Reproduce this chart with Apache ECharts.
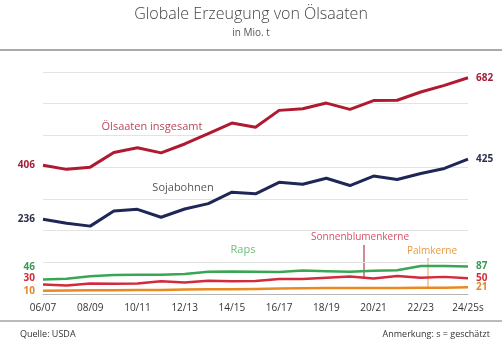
<!DOCTYPE html>
<html><head><meta charset="utf-8">
<script src="https://cdn.jsdelivr.net/npm/echarts@6/dist/echarts.min.js"></script>
<style>html,body{margin:0;padding:0;background:#fff}#c{width:502px;height:350px}</style>
</head><body><div id="c"></div>
<script>
const years = ['06/07','07/08','08/09','09/10','10/11','11/12','12/13','13/14','14/15','15/16','16/17','17/18','18/19','19/20','20/21','21/22','22/23','23/24','24/25s'];
const total = [406,393,400,446,461,445,473,506,539,526,579,584,602,582,610,611,637,658,682];
const soy = [236,223,214,262,267,242,268,285,321,316,352,346,365,342,372,361,380,396,425];
const rapeseed = [46,48,56,60,61,61,63,70,71,70,69,74,72,70,73,75,88,88,87];
const sunflower = [30,27,33,32,33,40,36,42,40,41,47,47,51,55,49,57,51,54,50];
const palm = [10,11,12,12,13,13,14,15,15,16,17,18,19,19,19,19,20,20,21];

const FF = '"Open Sans", "Noto Sans", sans-serif';
function mk(name, arr, color, labelColor, width, startOffset) {
  const data = arr.map((v, i) => i === 0 ? {
    value: v,
    label: {show: true, position: 'left', distance: 8, offset: [0, startOffset], formatter: String(v),
      color: labelColor, fontWeight: 'bold', fontSize: 10, fontFamily: FF}
  } : v);
  return {
    name, type: 'line', data, symbol: 'circle', symbolSize: 0, showSymbol: true, showAllSymbol: true, smooth: false,
    lineStyle: {color, width}, itemStyle: {color},
    label: {show: false},
    endLabel: {show: true, distance: 8, formatter: p => String(p.value), color: labelColor,
      fontWeight: 'bold', fontSize: 10, fontFamily: FF},
    silent: true, animation: false, z: 3
  };
}
const chart = echarts.init(document.getElementById('c'), null, {renderer: 'canvas'});
chart.setOption({
  animation: false,
  grid: {left: 43, right: 34, top: 72, bottom: 56},
  xAxis: {type: 'category', data: years, boundaryGap: false,
    axisLine: {lineStyle: {color: '#b5b5b5'}}, axisTick: {show: false},
    axisLabel: {interval: 1, color: '#333', fontSize: 10, fontFamily: FF, margin: 9},
    splitLine: {show: false}},
  yAxis: {type: 'value', min: 0, max: 700, interval: 100,
    axisLabel: {show: false}, axisLine: {show: false}, axisTick: {show: false},
    splitLine: {lineStyle: {color: '#e3e3e3', width: 1}}},
  series: [
    mk('Palmkerne', palm, '#e88a22', '#e0892a', 2.5, 0),
    mk('Sonnenblumenkerne', sunflower, '#d32a3c', '#d12e3c', 2.5, -6),
    mk('Raps', rapeseed, '#3aa655', '#3a9a55', 2.5, -12),
    mk('Sojabohnen', soy, '#1f2757', '#2b2f4f', 3, 0),
    mk('Ölsaaten insgesamt', total, '#b01a30', '#a3203a', 3, 0)
  ],
  graphic: [
    {type: 'text', left: 'center', top: 6, style: {text: 'Globale Erzeugung von Ölsaaten', fontSize: 16, fontWeight: 300, fill: '#444', fontFamily: FF}},
    {type: 'text', left: 'center', top: 28, style: {text: 'in Mio. t', fontSize: 10, fill: '#555', fontFamily: FF}},
    {type: 'line', shape: {x1: 0, y1: 50, x2: 502, y2: 50}, style: {stroke: '#555', lineWidth: 1}},
    {type: 'line', shape: {x1: 0, y1: 321, x2: 502, y2: 321}, style: {stroke: '#777', lineWidth: 1.2}},
    {type: 'text', left: 20, top: 330, style: {text: 'Quelle: USDA', fontSize: 9, fill: '#333', fontFamily: FF}},
    {type: 'text', right: 12, top: 330, style: {text: 'Anmerkung: s = geschätzt', fontSize: 9, fill: '#333', fontFamily: FF}},
    {type: 'text', x: 152, y: 127, style: {text: 'Ölsaaten insgesamt', align: 'center', verticalAlign: 'middle', fontSize: 11, fill: '#b8475a', fontFamily: FF}},
    {type: 'text', x: 183, y: 188, style: {text: 'Sojabohnen', align: 'center', verticalAlign: 'middle', fontSize: 11, fill: '#555', fontFamily: FF}},
    {type: 'text', x: 243, y: 250, style: {text: 'Raps', align: 'center', verticalAlign: 'middle', fontSize: 11, fill: '#6cc07c', fontFamily: FF}},
    {type: 'text', x: 360, y: 237, style: {text: 'Sonnenblumenkerne', align: 'center', verticalAlign: 'middle', fontSize: 10, fill: '#d6506a', fontFamily: FF}},
    {type: 'line', shape: {x1: 364, y1: 245, x2: 364, y2: 278}, style: {stroke: '#a0182c', lineWidth: 1}},
    {type: 'text', x: 432, y: 251, style: {text: 'Palmkerne', align: 'center', verticalAlign: 'middle', fontSize: 10, fill: '#e79a45', fontFamily: FF}},
    {type: 'line', shape: {x1: 428, y1: 258, x2: 428, y2: 288}, style: {stroke: '#e8a050', lineWidth: 1}}
  ]
});
</script></body></html>
